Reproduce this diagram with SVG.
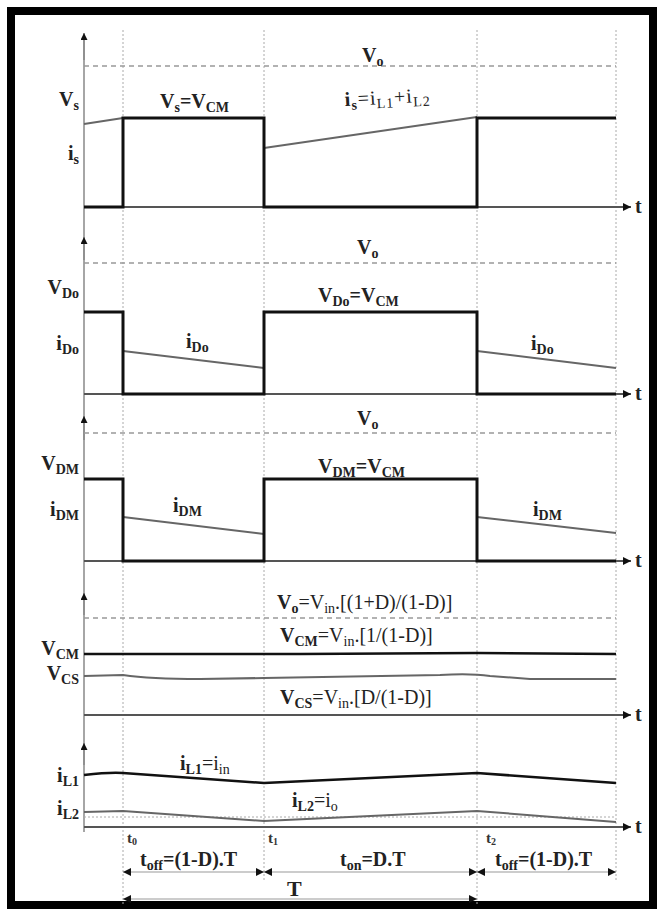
<svg xmlns="http://www.w3.org/2000/svg" width="660" height="909" viewBox="0 0 660 909">
<style>
.axis{stroke:#888;stroke-width:1.5;fill:none}
.base{stroke:#555;stroke-width:2;fill:none}
.dash{stroke:#999;stroke-width:1.6;stroke-dasharray:5 4;fill:none}
.vdot{stroke:#aaa;stroke-width:1;stroke-dasharray:2 2;fill:none}
.sq{stroke:#111;stroke-width:3;fill:none;stroke-linejoin:miter}
.ramp{stroke:#666;stroke-width:2;fill:none}
.lbl{font-family:"Liberation Serif",serif;font-weight:bold;font-size:20px;fill:#222}
.sub{font-size:14px}
.nb{font-weight:normal}
.tl{font-family:"Liberation Serif",serif;font-weight:bold;font-size:15px;fill:#333}
.bar{stroke:#999;stroke-width:1;fill:none}
</style>
<defs>
<marker id="ah" viewBox="0 0 10 10" refX="10" refY="5" markerWidth="10" markerHeight="8" markerUnits="userSpaceOnUse" orient="auto-start-reverse"><path d="M0,0 L10,5 L0,10 z" fill="#111"/></marker>
<marker id="up" viewBox="0 0 10 10" refX="10" refY="5" markerWidth="9" markerHeight="7" markerUnits="userSpaceOnUse" orient="auto"><path d="M0,0 L10,5 L0,10 z" fill="#111"/></marker>
</defs>
<rect width="660" height="909" fill="#fff"/>
<rect x="11" y="11" width="642" height="894" fill="none" stroke="#000" stroke-width="8"/>

<g id="grid">
<line class="vdot" x1="123" y1="30" x2="123" y2="905"/>
<line class="vdot" x1="264" y1="30" x2="264" y2="880"/>
<line class="vdot" x1="477" y1="30" x2="477" y2="905"/>
<line class="vdot" x1="616" y1="30" x2="616" y2="880"/>
<line class="axis" x1="84" y1="36" x2="84" y2="832"/>
</g>

<g id="axes">
<line class="axis" x1="84" y1="60" x2="84" y2="33" marker-end="url(#up)"/>
<line class="axis" x1="84" y1="260" x2="84" y2="237" marker-end="url(#up)"/>
<line class="axis" x1="84" y1="440" x2="84" y2="416" marker-end="url(#up)"/>
<line class="axis" x1="84" y1="615" x2="84" y2="593" marker-end="url(#up)"/>
<line class="axis" x1="84" y1="765" x2="84" y2="743" marker-end="url(#up)"/>
<line class="base" x1="84" y1="207" x2="631" y2="207" marker-end="url(#ah)"/>
<line class="base" x1="84" y1="394" x2="631" y2="394" marker-end="url(#ah)"/>
<line class="base" x1="84" y1="561" x2="631" y2="561" marker-end="url(#ah)"/>
<line class="base" x1="84" y1="715" x2="631" y2="715" marker-end="url(#ah)"/>
<line class="base" x1="84" y1="827" x2="631" y2="827" marker-end="url(#ah)"/>
<text class="lbl" x="635" y="213">t</text>
<text class="lbl" x="635" y="400">t</text>
<text class="lbl" x="635" y="567">t</text>
<text class="lbl" x="635" y="721">t</text>
<text class="lbl" x="635" y="833">t</text>
<line class="dash" x1="84" y1="66" x2="616" y2="66"/>
<line class="dash" x1="84" y1="263" x2="616" y2="263"/>
<line class="dash" x1="84" y1="433" x2="616" y2="433"/>
<line class="dash" x1="84" y1="618" x2="616" y2="618"/>
<line class="vdot" x1="84" y1="817" x2="616" y2="817"/>
</g>

<g id="panel1">
<path class="ramp" d="M84,124 L123,118 M264,148 L477,117"/>
<path class="sq" d="M84,207 H123 V118 H264 V207 H477 V118 H616"/>
<text class="lbl" x="79" y="106" text-anchor="end">V<tspan class="sub" dy="4">s</tspan></text>
<text class="lbl" x="79" y="160" text-anchor="end">i<tspan class="sub" dy="4">s</tspan></text>
<text class="lbl" x="362" y="62">V<tspan class="sub" dy="4">o</tspan></text>
<text class="lbl" x="160" y="108">V<tspan class="sub" dy="4">s</tspan><tspan dy="-4">=V</tspan><tspan class="sub" dy="4">CM</tspan></text>
<text class="lbl" x="345" y="106" transform="rotate(-3 345 106)" letter-spacing="1">i<tspan class="sub" dy="4">s</tspan><tspan class="nb" dy="-4">=i</tspan><tspan class="sub nb" dy="4">L1</tspan><tspan class="nb" dy="-4">+i</tspan><tspan class="sub nb" dy="4">L2</tspan></text>
</g>

<g id="panel2">
<path class="ramp" d="M123,351 L264,368 M477,351 L616,368"/>
<path class="sq" d="M84,312 H123 V394 H264 V312 H477 V394 H616"/>
<text class="lbl" x="79" y="294" text-anchor="end">V<tspan class="sub" dy="4">Do</tspan></text>
<text class="lbl" x="79" y="350" text-anchor="end">i<tspan class="sub" dy="4">Do</tspan></text>
<text class="lbl" x="357" y="254">V<tspan class="sub" dy="4">o</tspan></text>
<text class="lbl" x="318" y="302">V<tspan class="sub" dy="4">Do</tspan><tspan dy="-4">=V</tspan><tspan class="sub" dy="4">CM</tspan></text>
<text class="lbl" x="186" y="348">i<tspan class="sub" dy="4">Do</tspan></text>
<text class="lbl" x="531" y="350">i<tspan class="sub" dy="4">Do</tspan></text>
</g>

<g id="panel3">
<path class="ramp" d="M123,517 L264,534 M477,517 L616,533"/>
<path class="sq" d="M84,479 H123 V561 H264 V479 H477 V561 H616"/>
<text class="lbl" x="79" y="470" text-anchor="end">V<tspan class="sub" dy="4">DM</tspan></text>
<text class="lbl" x="79" y="516" text-anchor="end">i<tspan class="sub" dy="4">DM</tspan></text>
<text class="lbl" x="357" y="425">V<tspan class="sub" dy="4">o</tspan></text>
<text class="lbl" x="318" y="473">V<tspan class="sub" dy="4">DM</tspan><tspan dy="-4">=V</tspan><tspan class="sub" dy="4">CM</tspan></text>
<text class="lbl" x="173" y="512">i<tspan class="sub" dy="4">DM</tspan></text>
<text class="lbl" x="533" y="516">i<tspan class="sub" dy="4">DM</tspan></text>
</g>

<g id="panel4">
<path class="sq" style="stroke-width:2.5" d="M84,654 L300,654 L477,653 L616,654"/>
<path class="ramp" d="M84,676 L123,675 Q150,679 200,679 L264,678 L440,675 Q470,673 490,676 L530,679 L616,679"/>
<text class="lbl" x="79" y="655" text-anchor="end">V<tspan class="sub" dy="4">CM</tspan></text>
<text class="lbl" x="79" y="680" text-anchor="end">V<tspan class="sub" dy="4">CS</tspan></text>
<text class="lbl" x="277" y="609">V<tspan class="sub" dy="4">o</tspan><tspan class="nb" dy="-4">=V</tspan><tspan class="sub nb" dy="4">in</tspan><tspan class="nb" dy="-4">.[(1+D)/(1-D)]</tspan></text>
<text class="lbl" x="280" y="642">V<tspan class="sub" dy="4">CM</tspan><tspan class="nb" dy="-4">=V</tspan><tspan class="sub nb" dy="4">in</tspan><tspan class="nb" dy="-4">.[1/(1-D)]</tspan></text>
<text class="lbl" x="280" y="704">V<tspan class="sub" dy="4">CS</tspan><tspan class="nb" dy="-4">=V</tspan><tspan class="sub nb" dy="4">in</tspan><tspan class="nb" dy="-4">.[D/(1-D)]</tspan></text>
</g>

<g id="panel5">
<path class="sq" style="stroke-width:2.5" d="M84,775 Q110,772 123,773 L264,783 L477,773 L616,783"/>
<path class="ramp" d="M84,812 L123,811 L264,821 L477,811 L616,822"/>
<text class="lbl" x="79" y="782" text-anchor="end">i<tspan class="sub" dy="4">L1</tspan></text>
<text class="lbl" x="79" y="815" text-anchor="end">i<tspan class="sub" dy="4">L2</tspan></text>
<text class="lbl" x="180" y="770">i<tspan class="sub" dy="4">L1</tspan><tspan class="nb" dy="-4">=i</tspan><tspan class="sub nb" dy="4">in</tspan></text>
<text class="lbl" x="292" y="807">i<tspan class="sub" dy="4">L2</tspan><tspan class="nb" dy="-4">=i</tspan><tspan class="sub nb" dy="4">o</tspan></text>
<text class="tl" x="127" y="843">t<tspan class="sub" style="font-size:10px" dy="2">0</tspan></text>
<text class="tl" x="268" y="843">t<tspan class="sub" style="font-size:10px" dy="2">1</tspan></text>
<text class="tl" x="486" y="843">t<tspan class="sub" style="font-size:10px" dy="2">2</tspan></text>
</g>

<g id="connectors">
<line class="bar" x1="123" y1="872" x2="264" y2="872" marker-start="url(#ah)" marker-end="url(#ah)"/>
<line class="bar" x1="264" y1="872" x2="477" y2="872" marker-start="url(#ah)" marker-end="url(#ah)"/>
<line class="bar" x1="477" y1="872" x2="616" y2="872" marker-start="url(#ah)" marker-end="url(#ah)"/>
<line class="bar" x1="123" y1="899" x2="477" y2="899" marker-start="url(#ah)" marker-end="url(#ah)"/>
</g>

<g id="timing">
<text class="lbl" x="140" y="866">t<tspan class="sub" dy="4">off</tspan><tspan dy="-4">=(1-D).T</tspan></text>
<text class="lbl" x="340" y="866">t<tspan class="sub" dy="4">on</tspan><tspan dy="-4">=D.T</tspan></text>
<text class="lbl" x="495" y="866">t<tspan class="sub" dy="4">off</tspan><tspan dy="-4">=(1-D).T</tspan></text>
<text class="lbl" x="287" y="896" style="font-size:22px">T</text>
</g>
</svg>
